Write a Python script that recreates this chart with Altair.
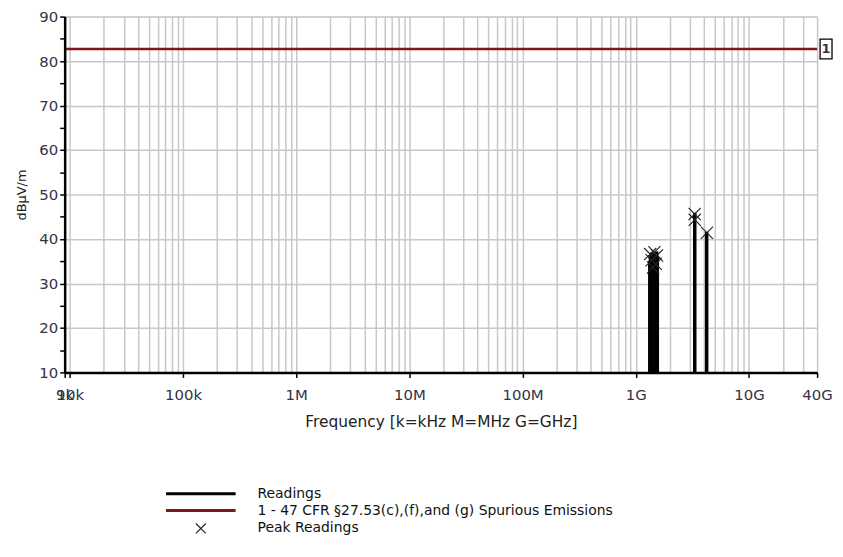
import altair as alt
import pandas as pd

# ---- data ----
readings_freq_hz = [1.33e9, 1.35e9, 1.37e9, 1.39e9, 1.41e9, 1.43e9, 1.45e9, 1.47e9,
                    1.49e9, 1.51e9, 1.53e9, 1.55e9, 3.32e9, 4.23e9]
readings_level = [35.1, 36.4, 34.2, 37.0, 35.6, 33.8, 36.8, 35.0,
                  36.2, 34.6, 37.2, 35.9, 45.9, 41.6]

peak_freq_hz = [1.34e9, 1.38e9, 1.42e9, 1.46e9, 1.50e9, 1.54e9, 3.31e9, 3.32e9, 4.25e9]
peak_level = [36.6, 35.2, 33.6, 37.0, 34.4, 36.3, 45.6, 44.3, 41.4]

limit_level = [82.7]
limit_marker = ["1"]

series_names = ["Readings",
                "1 - 47 CFR §27.53(c),(f),and (g) Spurious Emissions",
                "Peak Readings"]
series_colors = ["#000000", "#7f1818", "#222222"]

x_label_values = [9e3, 1e4, 1e5, 1e6, 1e7, 1e8, 1e9, 1e10, 4e10]
x_label_texts = ["9k", "10k", "100k", "1M", "10M", "100M", "1G", "10G", "40G"]
y_tick_values = [10, 15, 20, 25, 30, 35, 40, 45, 50, 55, 60, 65, 70, 75, 80, 85, 90]
y_grid_values = [10, 20, 30, 40, 50, 60, 70, 80, 90]

x_grid_values = [9e3] + [m * 10 ** e for e in range(4, 10) for m in range(1, 10)] + [1e10, 2e10, 3e10, 4e10]

W, H = 757, 358
FONT = "DejaVu Sans"

readings_df = pd.DataFrame({"freq": readings_freq_hz, "level": readings_level})
peaks_df = pd.DataFrame({"freq": peak_freq_hz, "level": peak_level,
                         "series": ["Peak Readings"] * len(peak_freq_hz)})
limit_df = pd.DataFrame({"limit": limit_level, "label": limit_marker})

xscale = alt.Scale(type="log", domain=[9e3, 4e10], nice=False)
yscale = alt.Scale(domain=[10, 90], nice=False, zero=False)

label_expr = " : ".join(
    f"datum.value == {v:.0f} ? '{t}'" for v, t in zip(x_label_values, x_label_texts)
) + " : ''"

grid_x_axis = alt.Axis(orient="top", values=x_grid_values, labels=False, ticks=False,
                       domain=False, grid=True, gridColor="#c8c8c8", gridWidth=1.5, title=None)
grid_y_axis = alt.Axis(orient="right", values=y_grid_values, labels=False, ticks=False,
                       domain=False, grid=True, gridColor="#c8c8c8", gridWidth=1.5, title=None)

label_x_axis = alt.Axis(orient="bottom", values=x_label_values, labelExpr=label_expr,
                        grid=False, domainColor="#000000", domainWidth=2.5,
                        tickColor="#000000", tickWidth=1.5, tickSize=5,
                        labelFont=FONT, labelFontSize=15, labelColor="#333344",
                        labelOverlap=False, labelFlush=False, labelBound=False,
                        labelPadding=10,
                        title="Frequency [k=kHz M=MHz G=GHz]", titleFont=FONT,
                        titleFontSize=15.5, titleFontWeight="normal", titleColor="#222222",
                        titlePadding=12, zindex=1)
label_y_axis = alt.Axis(orient="left", values=y_tick_values,
                        labelExpr="datum.value % 10 == 0 ? datum.label : ''",
                        grid=False, domainColor="#000000", domainWidth=2.5,
                        tickColor="#000000", tickWidth=1.5, tickSize=5,
                        labelFont=FONT, labelFontSize=15, labelColor="#333344",
                        labelPadding=2, labelOverlap=False,
                        title="dBµV/m", titleFont=FONT, titleFontSize=13,
                        titleFontWeight="normal", titleColor="#222222",
                        titlePadding=10, zindex=1)

readings = alt.Chart(readings_df).mark_rule(color="#000000", strokeWidth=3.5).encode(
    x=alt.X("freq:Q", scale=xscale, axis=grid_x_axis),
    y=alt.Y("level:Q", scale=yscale, axis=grid_y_axis),
    y2=alt.datum(10),
)

limit = alt.Chart(limit_df).mark_rule(color="#7f1818", strokeWidth=2.5).encode(
    y=alt.Y("limit:Q", scale=yscale, axis=None),
)

legend = alt.Legend(title=None, orient="none", legendX=130, legendY=473,
                    symbolSize=100, labelFont=FONT, labelFontSize=14,
                    labelColor="#111111", labelOffset=50, rowPadding=3, padding=0,
                    labelLimit=0, symbolOpacity=1)

peaks = alt.Chart(peaks_df).mark_point(filled=False, size=150, opacity=1).encode(
    x=alt.X("freq:Q", scale=xscale, axis=label_x_axis),
    y=alt.Y("level:Q", scale=yscale, axis=label_y_axis),
    color=alt.Color("series:N", scale=alt.Scale(domain=series_names, range=series_colors),
                    legend=legend),
    shape=alt.Shape("series:N", scale=alt.Scale(domain=series_names,
                                                range=["M-7,0L7,0", "M-7,0L7,0",
                                                       "M-1,-1L1,1M-1,1L1,-1"]),
                    legend=legend),
    strokeWidth=alt.StrokeWidth("series:N", scale=alt.Scale(type="ordinal",
                                                            domain=series_names,
                                                            range=[3, 3, 1.1]),
                                legend=legend),
)

box = alt.Chart(limit_df).mark_point(shape="M-0.6,-1L0.6,-1L0.6,1L-0.6,1Z", size=400,
                                     filled=False, color="#000000", strokeWidth=1.3,
                                     opacity=1).encode(
    x=alt.value(W + 9),
    y=alt.Y("limit:Q", scale=yscale, axis=None),
)
marker_text = alt.Chart(limit_df).mark_text(font=FONT, fontSize=13, color="#333344",
                                            fontWeight="bold").encode(
    x=alt.value(W + 9),
    y=alt.Y("limit:Q", scale=yscale, axis=None),
    text="label:N",
)

chart = alt.layer(readings, limit, peaks, box, marker_text).resolve_axis(
    x="independent", y="independent"
).properties(
    width=W, height=H,
    autosize=alt.AutoSizeParams(type="none"),
    padding={"left": 57, "top": 7, "right": 18, "bottom": 170},
).configure_view(stroke="#333333", strokeWidth=1.5).configure(background="white")

chart.save("out.html", embed_options={"renderer": "svg", "actions": False})
